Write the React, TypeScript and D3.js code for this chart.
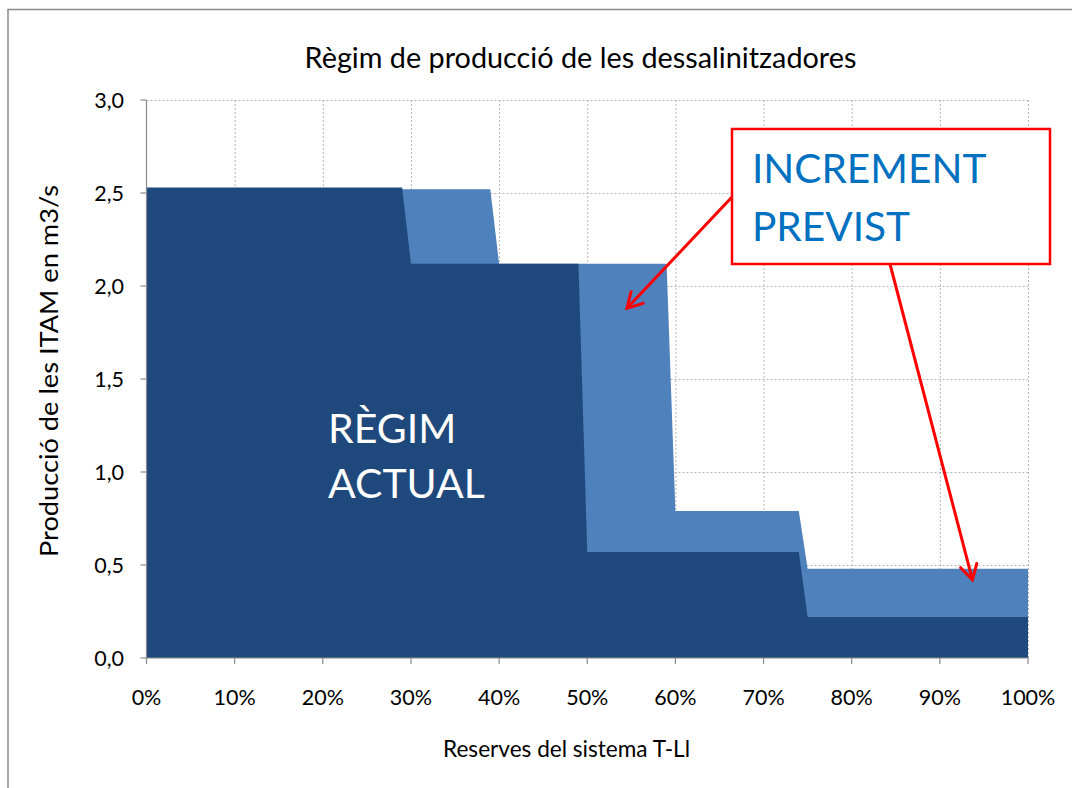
import React from "react";
import * as d3 from "d3";

// Data
const actualX = [0, 29, 30, 49, 50, 74, 75, 100];
const actualY = [2.53, 2.53, 2.12, 2.12, 0.57, 0.57, 0.22, 0.22];
const previstX = [0, 39, 40, 59, 60, 74, 75, 100];
const previstY = [2.52, 2.52, 2.12, 2.12, 0.79, 0.79, 0.48, 0.48];
const xTicks = [0, 10, 20, 30, 40, 50, 60, 70, 80, 90, 100];
const yTicks = [0, 0.5, 1.0, 1.5, 2.0, 2.5, 3.0];

const title = "Règim de producció de les dessalinitzadores";
const xTitle = "Reserves del sistema T-Ll";
const yTitle = "Producció de les ITAM en m3/s";

const W = 1072;
const H = 788;
const FONT = "Lato, 'Open Sans', sans-serif";

export default function App() {
  const x = d3.scaleLinear().domain([0, 100]).range([146.5, 1028]);
  const y = d3.scaleLinear().domain([0, 3]).range([658, 100]);

  const area = d3
    .area<[number, number]>()
    .x((d) => x(d[0]))
    .y0(y(0))
    .y1((d) => y(d[1]));

  const actual: [number, number][] = actualX.map((v, i) => [v, actualY[i]]);
  const previst: [number, number][] = previstX.map((v, i) => [v, previstY[i]]);

  const fmtY = (v: number) => v.toFixed(1).replace(".", ",");

  // annotation anchor points
  const a1From = [732, 197];
  const a1To = [x(54.5), y(1.88)];
  const a2From = [890, 264];
  const a2To = [x(93.7), y(0.42)];

  return (
    <svg
      width={W}
      height={H}
      style={{ position: "absolute", left: 0, top: 0, background: "#fff" }}
      fontFamily={FONT}
    >
      <defs>
        <marker
          id="arrowhead"
          viewBox="0 0 20 20"
          refX="18"
          refY="10"
          markerWidth="20"
          markerHeight="20"
          markerUnits="userSpaceOnUse"
          orient="auto"
        >
          <path d="M2,1 L18,10 L2,19" fill="none" stroke="#ff0000" strokeWidth="3" />
        </marker>
      </defs>
      {/* outer frame */}
      <rect x={8} y={9.5} width={W + 10} height={H + 10} fill="#fff" stroke="#8a8a8a" strokeWidth={1.5} />

      {/* title */}
      <text x={580.5} y={68} textAnchor="middle" fontSize={28.8} fill="#000">
        {title}
      </text>

      {/* gridlines */}
      <g stroke="#b4b4b4" strokeWidth={1} strokeDasharray="2,2">
        {yTicks.filter((t) => t > 0).map((t) => (
          <line key={"gy" + t} x1={x(0)} x2={x(100)} y1={y(t) + 0.5} y2={y(t) + 0.5} />
        ))}
        {xTicks.filter((t) => t > 0).map((t) => (
          <line key={"gx" + t} x1={x(t) + 0.5} x2={x(t) + 0.5} y1={y(3)} y2={y(0)} />
        ))}
      </g>

      {/* areas */}
      <path d={area(previst) || ""} fill="#4f81bd" />
      <path d={area(actual) || ""} fill="#1f497d" />

      {/* axes */}
      <g stroke="#8a8a8a" strokeWidth={1.2}>
        <line x1={x(0)} x2={x(0)} y1={y(3)} y2={y(0)} />
        <line x1={x(0)} x2={x(100)} y1={y(0)} y2={y(0)} />
        {yTicks.map((t) => (
          <line key={"ty" + t} x1={x(0) - 6} x2={x(0)} y1={y(t)} y2={y(t)} />
        ))}
        {xTicks.map((t) => (
          <line key={"tx" + t} x1={x(t)} x2={x(t)} y1={y(0)} y2={y(0) + 6} />
        ))}
      </g>

      {/* tick labels */}
      <g fontSize={21.5} fill="#000">
        {yTicks.map((t) => (
          <text key={"ly" + t} x={124} y={y(t) + 7.5} textAnchor="end">
            {fmtY(t)}
          </text>
        ))}
        {xTicks.map((t) => (
          <text key={"lx" + t} x={x(t)} y={705} textAnchor="middle">
            {t + "%"}
          </text>
        ))}
      </g>

      {/* axis titles */}
      <text x={566.5} y={757} textAnchor="middle" fontSize={22.6} fill="#000">
        {xTitle}
      </text>
      <text
        transform={`translate(58,371) rotate(-90)`}
        textAnchor="middle"
        fontSize={25}
        fill="#000"
        textLength={372}
        lengthAdjust="spacingAndGlyphs"
      >
        {yTitle}
      </text>

      {/* RÈGIM ACTUAL */}
      <g fontSize={41} fill="#ffffff">
        <text x={328} y={443}>RÈGIM</text>
        <text x={328} y={498}>ACTUAL</text>
      </g>

      {/* arrows */}
      <line x1={a1From[0]} y1={a1From[1]} x2={a1To[0]} y2={a1To[1]} stroke="#ff0000" strokeWidth={3} markerEnd="url(#arrowhead)" />
      <line x1={a2From[0]} y1={a2From[1]} x2={a2To[0]} y2={a2To[1]} stroke="#ff0000" strokeWidth={3} markerEnd="url(#arrowhead)" />

      {/* INCREMENT PREVIST box */}
      <rect x={732} y={129} width={318} height={135} fill="#fff" stroke="#ff0000" strokeWidth={2.5} />
      <g fontSize={40.6} fill="#0070c0">
        <text x={752} y={183}>INCREMENT</text>
        <text x={752} y={241}>PREVIST</text>
      </g>
    </svg>
  );
}
